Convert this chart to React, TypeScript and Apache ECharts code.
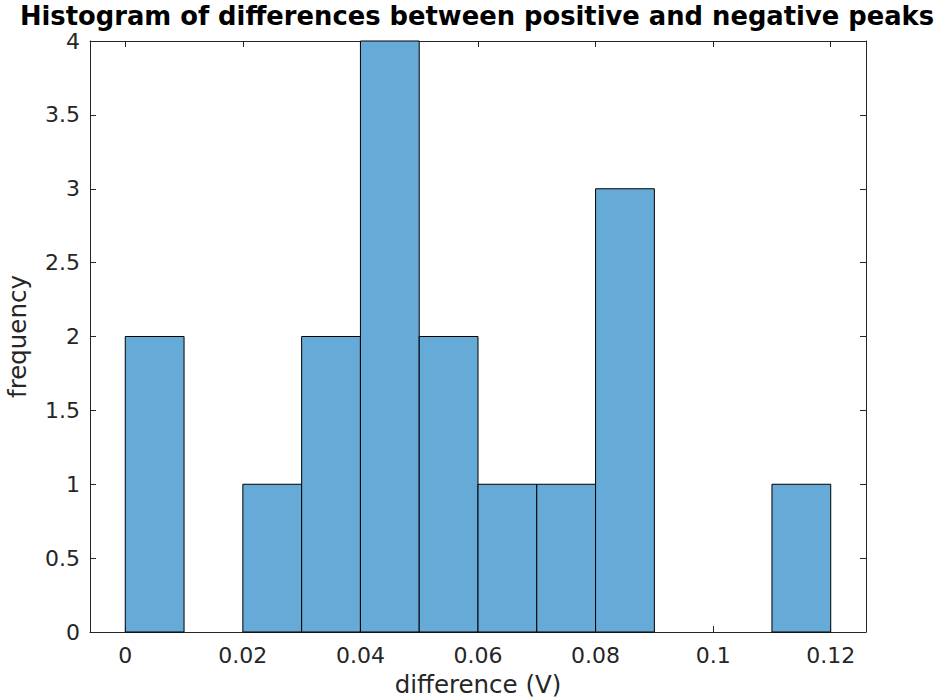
import React, { useEffect, useRef } from "react";
import * as echarts from "echarts";

const titleText = "Histogram of differences between positive and negative peaks";
const xAxisName = "difference (V)";
const yAxisName = "frequency";
const binStarts = [0, 0.01, 0.02, 0.03, 0.04, 0.05, 0.06, 0.07, 0.08, 0.09, 0.1, 0.11];
const binEnds = [0.01, 0.02, 0.03, 0.04, 0.05, 0.06, 0.07, 0.08, 0.09, 0.1, 0.11, 0.12];
const counts = [2, 0, 1, 2, 4, 2, 1, 1, 3, 0, 0, 1];
const xTicks = [0, 0.02, 0.04, 0.06, 0.08, 0.1, 0.12];
const xRange = [-0.006, 0.126];
const yRange = [0, 4];

const FONT = "DejaVu Sans";
const AX = "#262626";

export default function App() {
  const ref = useRef<HTMLDivElement>(null);
  useEffect(() => {
    if (!ref.current) return;
    const chart = echarts.init(ref.current, null, { renderer: "svg" });
    const data = binStarts.map((s, i) => [s, binEnds[i], counts[i]]);
    const lineStyle = { color: AX, width: 1 };
    chart.setOption({
      animation: false,
      backgroundColor: "#ffffff",
      title: {
        text: titleText,
        left: 477,
        top: 5,
        textAlign: "center",
        padding: 0,
        textStyle: {
          fontFamily: FONT,
          fontWeight: "bold",
          fontSize: 25.8,
          lineHeight: 22,
          color: "#000",
        },
      },
      grid: {
        left: 90,
        right: 71,
        top: 41,
        bottom: 67,
        containLabel: false,
        outerBoundsMode: "none",
      },
      xAxis: [
        {
          type: "value",
          min: xRange[0],
          max: xRange[1],
          position: "bottom",
          name: xAxisName,
          nameLocation: "middle",
          nameGap: 40,
          nameTextStyle: { fontFamily: FONT, fontSize: 24.5, color: AX },
          axisLine: { show: true, onZero: false, lineStyle },
          axisTick: { show: true, inside: true, length: 6, lineStyle, customValues: xTicks },
          axisLabel: {
            customValues: xTicks,
            fontFamily: FONT,
            fontSize: 22,
            color: AX,
            margin: 12,
            formatter: (v: number) => String(+v.toFixed(4)),
          },
          splitLine: { show: false },
        },
        {
          type: "value",
          min: xRange[0],
          max: xRange[1],
          position: "top",
          axisLine: { show: true, onZero: false, lineStyle },
          axisTick: { show: true, inside: true, length: 6, lineStyle, customValues: xTicks },
          axisLabel: { show: false, customValues: xTicks },
          splitLine: { show: false },
        },
      ],
      yAxis: [
        {
          type: "value",
          min: yRange[0],
          max: yRange[1],
          interval: 0.5,
          position: "left",
          name: yAxisName,
          nameLocation: "middle",
          nameGap: 60,
          nameTextStyle: { fontFamily: FONT, fontSize: 24.5, color: AX },
          axisLine: { show: true, onZero: false, lineStyle },
          axisTick: { show: true, inside: true, length: 6, lineStyle },
          axisLabel: { fontFamily: FONT, fontSize: 22, lineHeight: 20, color: AX, margin: 10 },
          splitLine: { show: false },
        },
        {
          type: "value",
          min: yRange[0],
          max: yRange[1],
          interval: 0.5,
          position: "right",
          axisLine: { show: true, onZero: false, lineStyle },
          axisTick: { show: true, inside: true, length: 6, lineStyle },
          axisLabel: { show: false },
          splitLine: { show: false },
        },
      ],
      series: [
        {
          type: "custom",
          xAxisIndex: 0,
          yAxisIndex: 0,
          data,
          encode: { x: [0, 1], y: 2 },
          renderItem: (params: any, api: any) => {
            const x0 = api.value(0);
            const x1 = api.value(1);
            const c = api.value(2);
            if (!c) return null;
            const p0 = api.coord([x0, 0]);
            const p1 = api.coord([x1, c]);
            return {
              type: "rect",
              shape: { x: p0[0], y: p1[1], width: p1[0] - p0[0], height: p0[1] - p1[1] },
              style: { fill: "rgb(102,170,215)", stroke: "#000", lineWidth: 1 },
            };
          },
        },
      ],
    });
    return () => chart.dispose();
  }, []);
  return (
    <div
      ref={ref}
      style={{ position: "absolute", left: 0, top: 0, width: 937, height: 699 }}
    />
  );
}
